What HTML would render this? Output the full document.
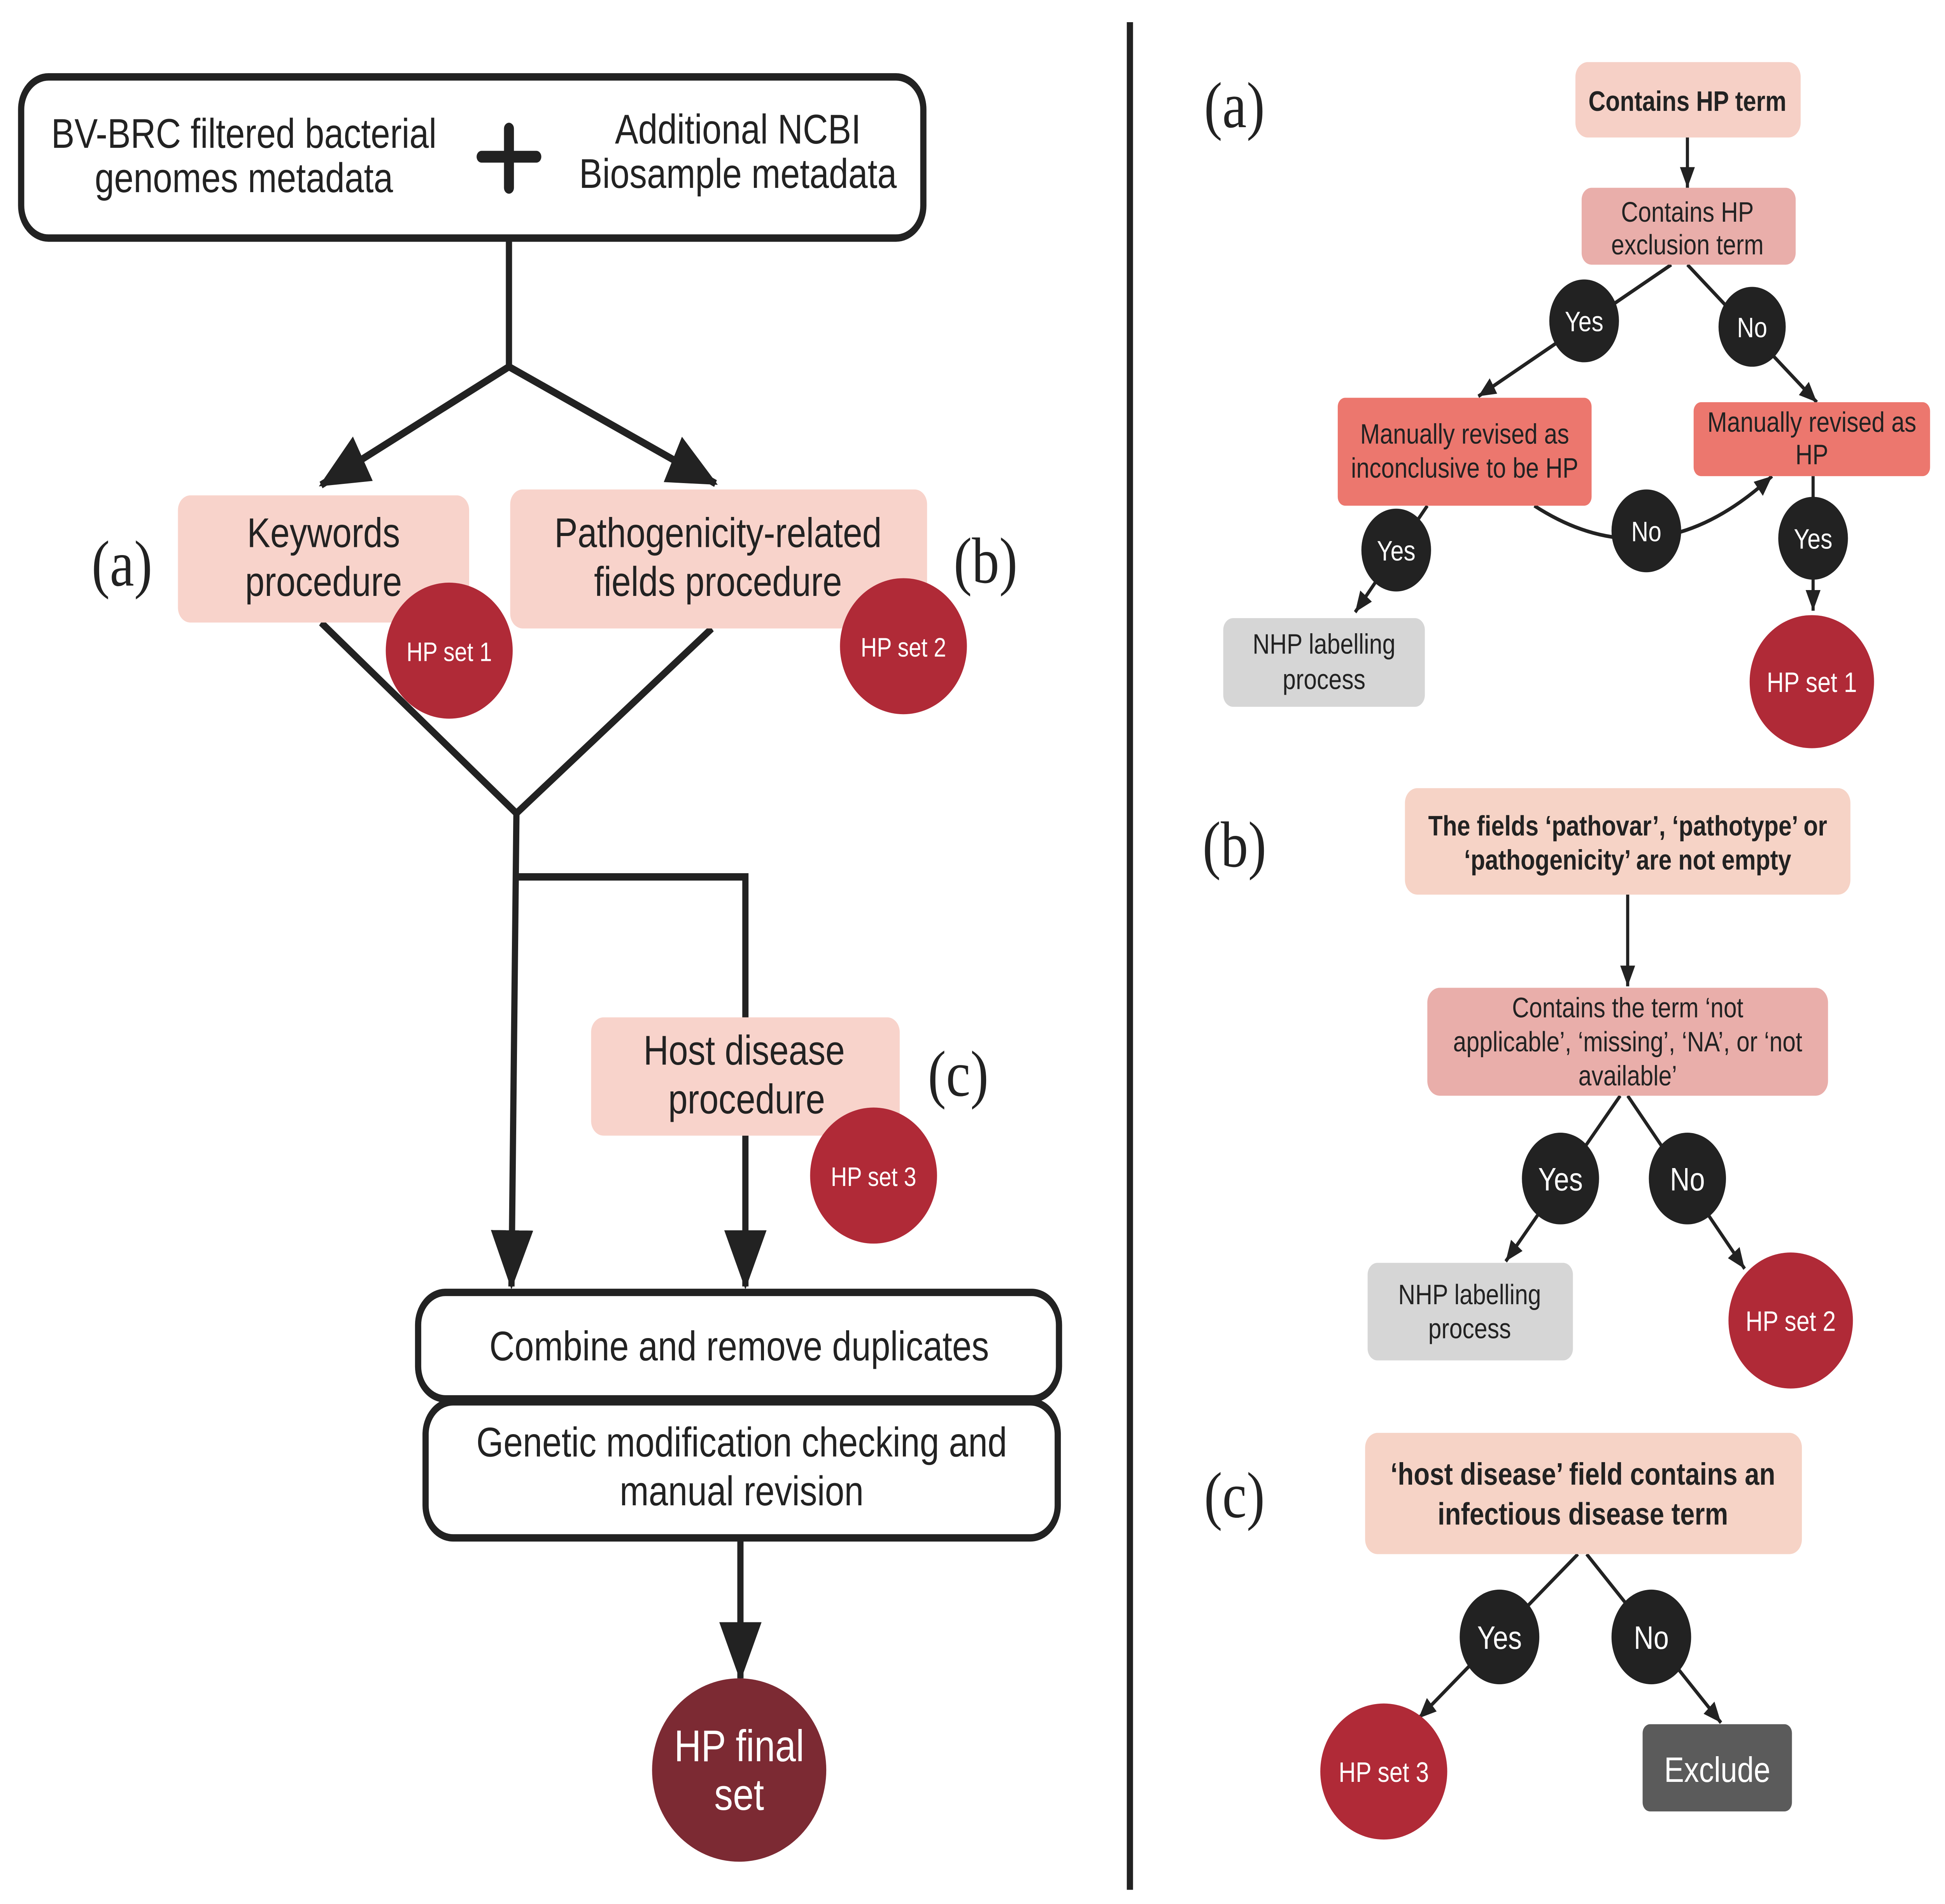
<!DOCTYPE html>
<html><head><meta charset="utf-8"><style>html,body{margin:0;padding:0;background:#fff;overflow:hidden;width:100%;height:100%}svg{display:block;width:100vw;height:100vh}</style></head>
<body>
<svg xmlns="http://www.w3.org/2000/svg" viewBox="0 0 1563 1287.6" preserveAspectRatio="none" font-family="'Liberation Sans', sans-serif">
<defs>
<marker id="big" markerUnits="userSpaceOnUse" markerWidth="40" markerHeight="40" viewBox="0 0 40 40" refX="38" refY="20" orient="auto"><path d="M0,3 L40,20 L0,37 Z" fill="#222"/></marker>
<marker id="sm" markerUnits="userSpaceOnUse" markerWidth="14" markerHeight="14" viewBox="0 0 14 14" refX="14" refY="7" orient="auto"><path d="M0,1 L14,7 L0,13 Z" fill="#222"/></marker>
</defs>
<rect width="1563" height="1287.6" fill="#fff"/>
<g stroke="#222" stroke-width="5" fill="none">
<rect x="17" y="52" width="725" height="109" rx="22" fill="#fff"/>
<line x1="409" y1="161" x2="409" y2="248"/>
<line x1="409" y1="248" x2="258" y2="328" marker-end="url(#big)"/>
<line x1="409" y1="248" x2="575" y2="327" marker-end="url(#big)"/>
<polyline points="258,421 415,550 572,425"/>
<line x1="415" y1="550" x2="411" y2="870" marker-end="url(#big)"/>
<polyline points="415,593 599,593 599,688"/>
<line x1="599" y1="768" x2="599" y2="870" marker-end="url(#big)"/>
<line x1="595" y1="1040" x2="595" y2="1135" marker-end="url(#big)"/>
</g>
<g stroke="#222" stroke-width="8" stroke-linecap="round"><line x1="387" y1="106" x2="431" y2="106"/><line x1="409" y1="87" x2="409" y2="127"/></g>
<g font-size="28" fill="#222" text-anchor="middle">
<text x="196" y="100">BV-BRC filtered bacterial</text>
<text x="196" y="130">genomes metadata</text>
<text x="593" y="97">Additional NCBI</text>
<text x="593" y="127">Biosample metadata</text>
</g>
<rect x="143" y="335" width="234" height="86" rx="10" fill="#f8d3cb"/>
<rect x="410" y="331" width="335" height="94" rx="10" fill="#f8d3cb"/>
<rect x="475" y="688" width="248" height="80" rx="10" fill="#f8d3cb"/>
<g font-size="28" fill="#222" text-anchor="middle">
<text x="260" y="370">Keywords</text><text x="260" y="403">procedure</text>
<text x="577" y="370">Pathogenicity-related</text><text x="577" y="403">fields procedure</text>
<text x="598" y="720">Host disease</text><text x="600" y="753">procedure</text>
</g>
<g font-family="'Liberation Serif', serif" font-size="44" fill="#222" text-anchor="middle">
<text x="98" y="396">(a)</text><text x="792" y="394">(b)</text><text x="770" y="741">(c)</text>
<text x="992" y="86">(a)</text><text x="992" y="586">(b)</text><text x="992" y="1026">(c)</text>
</g>
<g fill="#b02a37"><ellipse cx="361" cy="440" rx="51" ry="46"/><ellipse cx="726" cy="437" rx="51" ry="46"/><ellipse cx="702" cy="795" rx="51" ry="46"/></g>
<g font-size="18" fill="#fff" text-anchor="middle"><text x="361" y="447">HP set 1</text><text x="726" y="444">HP set 2</text><text x="702" y="802">HP set 3</text></g>
<rect x="336" y="874" width="515" height="72" rx="22" fill="#fff" stroke="#222" stroke-width="5"/>
<rect x="342" y="948" width="508" height="92" rx="22" fill="#fff" stroke="#222" stroke-width="5"/>
<g font-size="28" fill="#222" text-anchor="middle">
<text x="594" y="920">Combine and remove duplicates</text>
<text x="596" y="985">Genetic modification checking and</text>
<text x="596" y="1018">manual revision</text>
</g>
<ellipse cx="594" cy="1197" rx="70" ry="62" fill="#7c2a33"/>
<g font-size="30" fill="#fff" text-anchor="middle"><text x="594" y="1191">HP final</text><text x="594" y="1224">set</text></g>
<line x1="908" y1="15" x2="908" y2="1278" stroke="#222" stroke-width="5"/>

<g stroke="#222" stroke-width="2.5" fill="none">
<line x1="1356" y1="93" x2="1356" y2="127" marker-end="url(#sm)"/>
<line x1="1343" y1="179" x2="1188" y2="268" marker-end="url(#sm)"/>
<line x1="1356" y1="179" x2="1460" y2="272" marker-end="url(#sm)"/>
<line x1="1147" y1="342" x2="1089" y2="414" marker-end="url(#sm)"/>
<path d="M1233,342 Q1330,395 1424,322" marker-end="url(#sm)"/>
<line x1="1457" y1="322" x2="1457" y2="413" marker-end="url(#sm)"/>
<line x1="1302" y1="741" x2="1210" y2="853" marker-end="url(#sm)"/>
<line x1="1308" y1="741" x2="1402" y2="858" marker-end="url(#sm)"/>
<line x1="1308" y1="605" x2="1308" y2="667" marker-end="url(#sm)"/>
<line x1="1268" y1="1051" x2="1140" y2="1162" marker-end="url(#sm)"/>
<line x1="1275" y1="1051" x2="1383" y2="1165" marker-end="url(#sm)"/>
</g>
<rect x="1266" y="42" width="181" height="51" rx="10" fill="#f6d0c6"/>
<rect x="1271" y="127" width="172" height="52" rx="8" fill="#e9aeaa"/>
<rect x="1075" y="269" width="204" height="73" rx="6" fill="#ec776e"/>
<rect x="1361" y="272" width="190" height="50" rx="6" fill="#ec776e"/>
<rect x="983" y="418" width="162" height="60" rx="8" fill="#d6d6d6"/>
<rect x="1129" y="533" width="358" height="72" rx="10" fill="#f6d3c6"/>
<rect x="1147" y="668" width="322" height="73" rx="10" fill="#e9aeaa"/>
<rect x="1099" y="854" width="165" height="66" rx="8" fill="#d6d6d6"/>
<rect x="1097" y="969" width="351" height="82" rx="10" fill="#f6d3c6"/>
<rect x="1320" y="1166" width="120" height="59" rx="6" fill="#5b5b5b"/>
<g fill="#222"><circle cx="1273" cy="217" r="28"/><circle cx="1408" cy="221" r="27"/><circle cx="1122" cy="372" r="28"/><circle cx="1323" cy="359" r="28"/><circle cx="1457" cy="364" r="28"/><circle cx="1254" cy="797" r="31"/><circle cx="1356" cy="797" r="31"/><circle cx="1205" cy="1107" r="32"/><circle cx="1327" cy="1107" r="32"/></g>
<g fill="#b02a37"><ellipse cx="1456" cy="461" rx="50" ry="45"/><ellipse cx="1439" cy="893" rx="50" ry="46"/><ellipse cx="1112" cy="1198" rx="51" ry="46"/></g>
<g font-size="19" fill="#fff" text-anchor="middle">
<text x="1273" y="224">Yes</text><text x="1408" y="228">No</text><text x="1122" y="379">Yes</text><text x="1323" y="366">No</text><text x="1457" y="371">Yes</text>
<text x="1456" y="468">HP set 1</text><text x="1439" y="900">HP set 2</text><text x="1112" y="1205">HP set 3</text>
</g>
<g font-size="22" fill="#fff" text-anchor="middle">
<text x="1254" y="805">Yes</text><text x="1356" y="805">No</text><text x="1205" y="1115">Yes</text><text x="1327" y="1115">No</text>
<text x="1380" y="1205" font-size="24">Exclude</text>
</g>
<g font-size="19" fill="#222" text-anchor="middle">
<text x="1356" y="75" font-weight="bold">Contains HP term</text>
<text x="1356" y="150">Contains HP</text><text x="1356" y="172">exclusion term</text>
<text x="1177" y="300">Manually revised as</text><text x="1177" y="323">inconclusive to be HP</text>
<text x="1456" y="292">Manually revised as</text><text x="1456" y="314">HP</text>
<text x="1064" y="442">NHP labelling</text><text x="1064" y="466">process</text>
<text x="1308" y="565" font-weight="bold">The fields ‘pathovar’, ‘pathotype’ or</text>
<text x="1308" y="588" font-weight="bold">‘pathogenicity’ are not empty</text>
<text x="1308" y="688">Contains the term ‘not</text>
<text x="1308" y="711">applicable’, ‘missing’, ‘NA’, or ‘not</text>
<text x="1308" y="734">available’</text>
<text x="1181" y="882">NHP labelling</text><text x="1181" y="905">process</text>
<text x="1272" y="1004" font-weight="bold" font-size="21">‘host disease’ field contains an</text>
<text x="1272" y="1031" font-weight="bold" font-size="21">infectious disease term</text>
</g>
</svg>
</body></html>
